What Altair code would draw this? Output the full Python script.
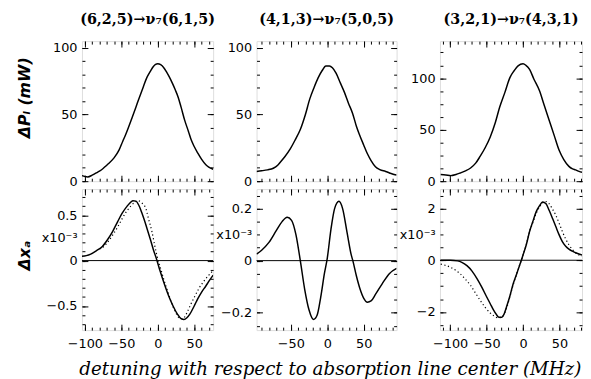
import altair as alt
import pandas as pd

# ---------------- data ----------------
# top row: Delta P_L (mW)
p1_top_x = [-104, -100, -96, -90, -85, -80, -75, -70, -67, -60, -53, -48, -44, -40, -35, -30, -26, -20, -15, -10, -6, -3, 0, 4, 8, 12, 16, 20, 24, 28, 32, 37, 42, 46, 50, 55, 60, 66, 70, 76]
p1_top_y = [4.2, 3.5, 3.2, 4.5, 6, 7.5, 9.5, 12, 13.5, 17.5, 23.5, 30, 35, 40.6, 48, 55.5, 61.6, 70.5, 77.6, 82.5, 86, 87.5, 88, 87.3, 85.3, 82, 78, 73.5, 68.5, 63, 55.5, 45.6, 37.5, 30.8, 26, 21, 16.5, 12.3, 10.5, 9]

p2_top_x = [-97, -90, -82, -74, -68, -64, -58, -51, -44, -37, -30, -24, -18, -12.6, -7, -2, 3, 7, 12, 18, 23.5, 29, 34.7, 40, 44, 50, 55, 60, 66, 72, 80, 86, 93, 95]
p2_top_y = [7.3, 7.8, 8.5, 9.7, 12, 14.5, 18.5, 24, 31, 38.7, 50, 61.7, 70.5, 77.5, 83, 86.4, 86.4, 85, 81, 73.5, 66.6, 58.5, 50.8, 41, 35, 27, 20.6, 15.5, 10.9, 8.7, 7.3, 6, 4.8, 4.6]

p3_top_x = [-113, -106, -99, -92, -86, -79, -72, -65, -59, -52, -45, -38, -32, -25, -18, -12, -6.8, 0, 4, 9, 15, 22.5, 29, 36, 43, 49.6, 56, 63, 68, 72, 77, 81]
p3_top_y = [6.4, 6, 5.4, 6.5, 8, 10, 12.8, 17.5, 24, 32.5, 43, 57, 72, 86, 100.6, 107.5, 112, 114, 112.5, 108.6, 99, 88, 74, 59, 44, 30, 21, 14.4, 12, 11, 9.5, 8.6]

# bottom row: Delta x_a (x10^-3)
p1_bot_x = [-104, -98, -92, -84, -76, -69, -62, -55, -49, -42, -37, -34, -30, -26, -22, -19, -15, -10, -6, -1.4, 3, 10, 15, 21, 27, 32, 36, 40, 44, 50, 55, 60, 66, 70, 76]
p1_bot_y = [0.047, 0.055, 0.072, 0.11, 0.156, 0.23, 0.32, 0.43, 0.52, 0.60, 0.645, 0.66, 0.655, 0.61, 0.53, 0.46, 0.36, 0.23, 0.12, 0.01, -0.11, -0.28, -0.39, -0.50, -0.59, -0.64, -0.65, -0.63, -0.59, -0.50, -0.42, -0.35, -0.28, -0.23, -0.16]
p1_dot_x = [-80, -76, -69, -62, -55, -49, -43, -37, -32, -27, -23, -19, -17, -13, -8, -4, 0, 3, 8, 12, 17, 21, 25, 30, 34, 37, 42, 46, 51, 57, 63, 69, 76]
p1_dot_y = [0.13, 0.145, 0.2, 0.28, 0.37, 0.46, 0.54, 0.60, 0.64, 0.66, 0.645, 0.61, 0.59, 0.47, 0.32, 0.16, 0.02, -0.06, -0.2, -0.30, -0.42, -0.51, -0.58, -0.635, -0.64, -0.62, -0.54, -0.47, -0.39, -0.30, -0.23, -0.17, -0.11]

p2_bot_x = [-97, -90, -80, -70, -62, -55, -49, -43, -37, -31, -25, -19, -14, -9, -4, 0, 5, 10, 16, 21, 27, 33, 35, 40, 45, 50, 55, 60, 66, 75, 85, 95]
p2_bot_y = [0.025, 0.04, 0.07, 0.115, 0.15, 0.167, 0.155, 0.10, 0.0, -0.11, -0.19, -0.226, -0.21, -0.14, -0.05, 0.01, 0.12, 0.2, 0.228, 0.2, 0.11, 0.02, 0.0, -0.06, -0.11, -0.145, -0.16, -0.155, -0.13, -0.09, -0.05, -0.03]

p3_bot_x = [-113, -100, -90, -84, -77, -70, -63, -57, -50, -45, -40.6, -37, -33, -29, -26, -22.5, -18, -13.5, -9, -4.5, -2, 0, 4.5, 9, 13.5, 18, 22.5, 27, 31.6, 36, 40.6, 45, 49.6, 54, 58.6, 63, 67.7, 74, 81]
p3_bot_y = [0.0, 0.0, -0.025, -0.08, -0.21, -0.42, -0.72, -1.02, -1.41, -1.68, -1.92, -2.08, -2.2, -2.2, -2.08, -1.79, -1.38, -0.91, -0.55, -0.18, 0.02, 0.2, 0.6, 1.11, 1.5, 1.87, 2.1, 2.25, 2.18, 1.92, 1.61, 1.3, 0.98, 0.72, 0.54, 0.43, 0.35, 0.27, 0.2]
p3_dot_x = [-113, -106, -99, -92, -86, -79, -72, -65, -59, -52, -45, -40, -34, -30, -27, -22, -18, -13.5, -9, -4.5, 0, 4.5, 9, 13.5, 18, 22.5, 27, 31, 36, 40, 45, 50, 54, 58.6, 63, 67.7, 72, 77, 81]
p3_dot_y = [-0.15, -0.2, -0.28, -0.4, -0.53, -0.74, -0.97, -1.28, -1.54, -1.82, -2.04, -2.15, -2.23, -2.2, -2.13, -1.8, -1.41, -0.95, -0.55, -0.17, 0.2, 0.6, 1.11, 1.45, 1.8, 2.05, 2.22, 2.27, 2.18, 2.0, 1.74, 1.4, 1.11, 0.82, 0.6, 0.42, 0.29, 0.2, 0.16]

titles = ["(6,2,5)\u2192\u03bd\u2087(6,1,5)", "(4,1,3)\u2192\u03bd\u2087(5,0,5)", "(3,2,1)\u2192\u03bd\u2087(4,3,1)"]
x_title = "detuning with respect to absorption line center (MHz)"
top_ytitle = "\u0394P\u2097   (mW)"
bot_ytitle = "\u0394x\u2090"
scale_note = "x10\u207b\u00b3"

x_domains = [[-104, 76], [-97, 95], [-114, 81]]
x_major = [[-100, -50, 0, 50], [-50, 0, 50], [-100, -50, 0, 50]]
x_minor = [list(range(-100, 80, 10)), list(range(-90, 100, 10)), list(range(-110, 90, 10))]

top_ydomains = [[0, 105], [0, 105], [0, 136]]
top_ymajor = [[0, 50, 100], [0, 50, 100], [0, 50, 100]]
top_yminor = [list(range(0, 110, 10)), list(range(0, 110, 10)), [0, 12.5, 25, 37.5, 50, 62.5, 75, 87.5, 100, 112.5, 125]]

bot_ydomains = [[-0.766, 0.788], [-0.267, 0.275], [-2.7, 2.75]]
bot_ymajor = [[-0.5, 0, 0.5], [-0.2, 0, 0.2], [-2, 0, 2]]
bot_note_at = [0.25, 0.1, 1]
bot_yminor = [[-0.7, -0.6, -0.5, -0.4, -0.3, -0.2, -0.1, 0, 0.1, 0.2, 0.3, 0.4, 0.5, 0.6, 0.7],
              [-0.25, -0.2, -0.15, -0.1, -0.05, 0, 0.05, 0.1, 0.15, 0.2, 0.25],
              [-2.5, -2, -1.5, -1, -0.5, 0, 0.5, 1, 1.5, 2, 2.5]]

widths = [133, 142, 144]
H_TOP = 142
H_BOT = 143

LABEL_FONT = "DejaVu Sans"


def df_of(xs, ys):
    return pd.DataFrame({"x": xs, "y": ys})


def tick_axis(orient, vals, size):
    return alt.Axis(orient=orient, values=vals, labels=False, domain=False, grid=False,
                    title=None, tickSize=size, offset=-size, tickColor="black", tickWidth=1)


def panel(i, solid, dotted, ydom, ymaj, ymin, xlabels, ytitle, ytitle_y, note, zero_rule, h, title):
    xs = alt.Scale(domain=x_domains[i], nice=False, zero=False)
    ys = alt.Scale(domain=ydom, nice=False, zero=False)

    def layer(xa, ya):
        return alt.Chart(solid).mark_line(opacity=0).encode(
            x=alt.X("x:Q", scale=xs, axis=xa),
            y=alt.Y("y:Q", scale=ys, axis=ya),
        )

    xlab = alt.Axis(orient="bottom", values=x_major[i], labels=xlabels, ticks=False, domain=False,
                    grid=False, title=None, labelFont=LABEL_FONT, labelFontSize=13, labelColor="black",
                    labelPadding=8, labelFlush=False, labelOverlap=False, format="d")
    yvals = list(ymaj) + ([note] if note is not None else [])
    yexpr = "datum.label"
    if note is not None:
        yexpr = "datum.value == %s ? '%s' : datum.label" % (repr(note), scale_note)
    yargs = dict(orient="left", values=yvals, ticks=False, domain=False, grid=False,
                 labelFont=LABEL_FONT, labelFontSize=13, labelColor="black", labelPadding=5,
                 labelFlush=False, labelOverlap=False, labelBound=False, format="~r", labelExpr=yexpr)
    if ytitle is not None:
        yargs.update(title=ytitle, titleFont="DejaVu Sans", titleFontWeight="bold",
                     titleFontStyle="italic", titleFontSize=16, titleColor="black",
                     titleX=-58, titleY=ytitle_y, titleAngle=270, titleAlign="center",
                     titleBaseline="middle")
    else:
        yargs.update(title=None)
    ylab = alt.Axis(**yargs)

    layers = [
        layer(xlab, ylab),
        layer(tick_axis("bottom", x_major[i], 6), tick_axis("left", ymaj, 6)),
        layer(tick_axis("bottom", x_minor[i], 3), tick_axis("left", ymin, 3)),
        layer(tick_axis("top", x_major[i], 6), tick_axis("right", ymaj, 6)),
        layer(tick_axis("top", x_minor[i], 3), tick_axis("right", ymin, 3)),
    ]
    if zero_rule:
        layers.append(alt.Chart(pd.DataFrame({"y": [0]})).mark_rule(color="black", strokeWidth=1).encode(
            y=alt.Y("y:Q", scale=ys, axis=None)))
    layers.append(alt.Chart(solid).mark_line(color="black", strokeWidth=1.5, clip=True, interpolate="monotone").encode(
        x=alt.X("x:Q", scale=xs, axis=None), y=alt.Y("y:Q", scale=ys, axis=None)))
    if dotted is not None:
        layers.append(alt.Chart(dotted).mark_line(color="black", strokeWidth=1.2, strokeDash=[1.2, 2.6], clip=True,
                                                  interpolate="monotone").encode(
            x=alt.X("x:Q", scale=xs, axis=None), y=alt.Y("y:Q", scale=ys, axis=None)))

    ch = alt.layer(*layers).resolve_axis(x="independent", y="independent").properties(width=widths[i], height=h)
    if title is not None:
        ch = ch.properties(title=alt.TitleParams(text=title, font="DejaVu Serif", fontWeight="bold",
                                                 fontSize=14.5, color="black", anchor="middle", offset=13))
    return ch


top_data = [df_of(p1_top_x, p1_top_y), df_of(p2_top_x, p2_top_y), df_of(p3_top_x, p3_top_y)]
bot_data = [df_of(p1_bot_x, p1_bot_y), df_of(p2_bot_x, p2_bot_y), df_of(p3_bot_x, p3_bot_y)]
bot_dots = [df_of(p1_dot_x, p1_dot_y), None, df_of(p3_dot_x, p3_dot_y)]

panels = [
    panel(i, top_data[i], None, top_ydomains[i], top_ymajor[i], top_yminor[i], False,
          top_ytitle if i == 0 else None, 57, None, False, H_TOP, titles[i])
    for i in range(3)
] + [
    panel(i, bot_data[i], bot_dots[i], bot_ydomains[i], bot_ymajor[i], bot_yminor[i], True,
          bot_ytitle if i == 0 else None, 67, bot_note_at[i], True, H_BOT, None)
    for i in range(3)
]

chart = alt.concat(*panels, columns=3, spacing={"row": 8, "column": 44}, bounds="flush").properties(
    title=alt.TitleParams(text=x_title, orient="bottom", anchor="middle", font="DejaVu Serif",
                          fontStyle="italic", fontWeight="normal", fontSize=18.5, color="black",
                          offset=9, dx=31),
    padding={"left": 8, "top": 1, "right": 0, "bottom": 0},
).configure_view(stroke="black", strokeWidth=1.2).configure(background="white")

chart.save("out.html", embed_options={"renderer": "svg", "actions": False})
